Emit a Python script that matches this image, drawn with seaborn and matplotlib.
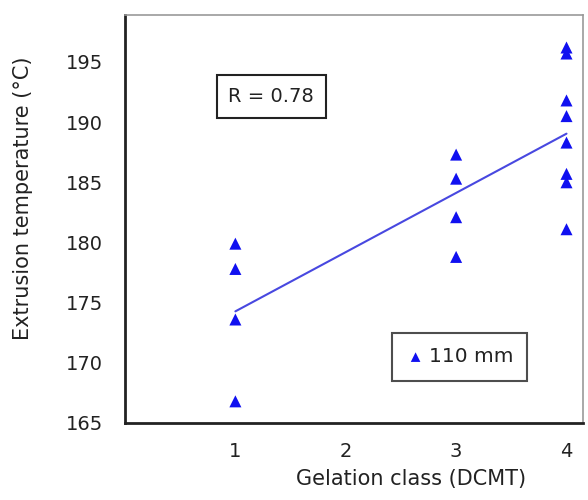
import numpy as np
import pandas as pd
import matplotlib
matplotlib.use("Agg")
import matplotlib.pyplot as plt
import seaborn as sns

# Data
gelation_class = [1, 1, 1, 1,
                  3, 3, 3, 3,
                  4, 4, 4, 4, 4, 4, 4, 4]
extrusion_temp = [179.9, 177.8, 173.6, 166.8,
                  187.3, 185.3, 182.1, 178.8,
                  196.2, 195.7, 191.8, 190.5, 188.3, 185.7, 185.0, 181.1]
series_label = "110 mm"
r_text = "R = 0.78"
x_ticks = [1, 2, 3, 4]
y_ticks = [165, 170, 175, 180, 185, 190, 195]

df = pd.DataFrame({"x": gelation_class, "y": extrusion_temp})

sns.set_theme(style="white")
plt.rcParams['font.family'] = ['DejaVu Sans']

fig = plt.figure(figsize=(5.88, 5.0), dpi=100)
ax = fig.add_axes([0.2126, 0.154, 0.779, 0.816])

sns.regplot(data=df, x="x", y="y", ax=ax, scatter=False, ci=None,
            truncate=True, line_kws=dict(color="#4848e0", lw=1.5))
sns.scatterplot(data=df, x="x", y="y", ax=ax, marker="^", s=75,
                color="#1010f0", edgecolor="none", label=series_label, zorder=3)

ax.set_xlim(0, 4.15)
ax.set_ylim(165, 198.9)
ax.set_xticks(x_ticks)
ax.set_yticks(y_ticks)
ax.tick_params(axis="both", direction="in", length=4, width=1, colors="#222222",
               labelsize=14, labelcolor="#222222")
ax.tick_params(axis="y", pad=16)
ax.tick_params(axis="x", pad=14)
ax.set_xlabel("Gelation class (DCMT)", fontsize=15, color="#222222")
ax.set_ylabel("Extrusion temperature (°C)", fontsize=15, color="#222222")
ax.xaxis.set_label_coords(0.624, -0.113)
ax.yaxis.set_label_coords(-0.20, 0.551)

for side in ["left", "bottom"]:
    ax.spines[side].set_color("#222222")
    ax.spines[side].set_linewidth(2)
for side in ["top", "right"]:
    ax.spines[side].set_color("#999999")
    ax.spines[side].set_linewidth(1.2)

ax.text(0.319, 0.80, r_text, transform=ax.transAxes, ha="center", va="center",
        fontsize=14, color="#222222",
        bbox=dict(boxstyle="square,pad=0.6", fc="white", ec="#222222", lw=1.5))

leg = ax.legend(loc="center", bbox_to_anchor=(0.731, 0.162), frameon=True,
                fancybox=False, edgecolor="#222222", fontsize=14.5,
                handletextpad=0.2, handlelength=0.9, borderpad=0.7,
                markerscale=0.8)
leg.get_frame().set_linewidth(1.5)
for t in leg.get_texts():
    t.set_color("#222222")

fig.savefig("out.png", dpi=100)
